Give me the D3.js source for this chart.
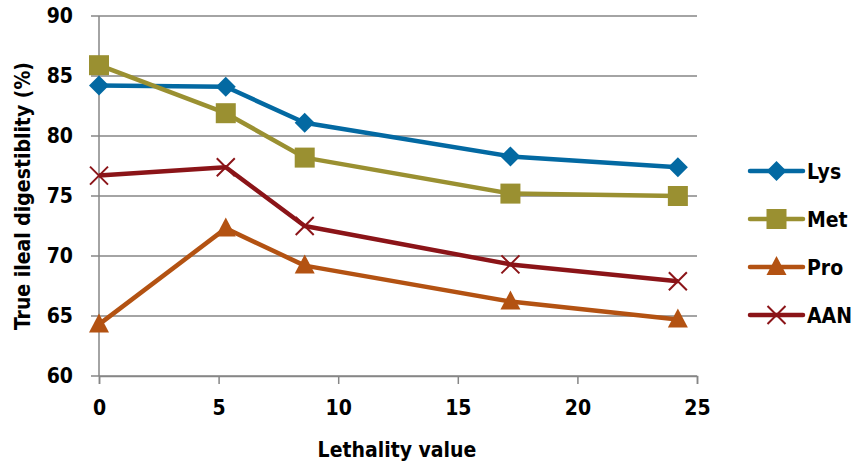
<!DOCTYPE html>
<html><head><meta charset="utf-8">
<script src="https://cdn.jsdelivr.net/npm/d3@7"></script>
<style>
body{margin:0;background:#fff;}
text{font-family:"Liberation Sans Narrow","DejaVu Sans Condensed","Open Sans",sans-serif;font-weight:bold;fill:#000;}
</style></head><body>
<svg id="c" width="858" height="467"></svg>
<script>
const lethality = [0, 5.3, 8.6, 17.2, 24.2];
const seriesNames = ["Lys", "Met", "Pro", "AAN"];
const lys = [84.2, 84.1, 81.1, 78.3, 77.4];
const met = [85.9, 81.9, 78.2, 75.2, 75.0];
const pro = [64.3, 72.3, 69.2, 66.2, 64.7];
const aan = [76.7, 77.4, 72.5, 69.3, 67.9];
const xTicks = [0, 5, 10, 15, 20, 25];
const yTicks = [60, 65, 70, 75, 80, 85, 90];
const colors = ["#0369A2", "#9A9031", "#B35212", "#8B1418"];
const symbolTypes = ["diamond", "square", "triangle", "cross"];

const svg = d3.select("#c");
const x = d3.scaleLinear().domain([0, 25]).range([99, 697]);
const y = d3.scaleLinear().domain([60, 90]).range([376, 16]);
const grid = "#868686";

// gridlines
svg.append("g").selectAll("line").data(yTicks).join("line")
  .attr("x1", 91).attr("x2", x(25)).attr("y1", d => y(d)).attr("y2", d => y(d))
  .attr("stroke", grid).attr("stroke-width", 1.5);

// y axis
const yAxis = svg.append("g").attr("transform", `translate(${x(0)},0)`)
  .call(d3.axisLeft(y).tickValues(yTicks).tickSize(0).tickPadding(26));
yAxis.select(".domain").remove();
yAxis.selectAll("text").attr("font-size", 21).attr("fill", "#000");
svg.append("line").attr("x1", x(0)).attr("x2", x(0)).attr("y1", y(90)).attr("y2", y(60))
  .attr("stroke", grid).attr("stroke-width", 1.5);

// x axis
const xAxis = svg.append("g").attr("transform", `translate(0,${y(60)})`)
  .call(d3.axisBottom(x).tickValues(xTicks).tickSize(8).tickPadding(16));
xAxis.select(".domain").attr("stroke", grid).attr("stroke-width", 1.5);
xAxis.selectAll("line").attr("stroke", grid).attr("stroke-width", 1.5);
xAxis.selectAll("text").attr("font-size", 21).attr("fill", "#000");

// titles
svg.append("text").attr("x", 397).attr("y", 457).attr("text-anchor", "middle")
  .attr("font-size", 21).text("Lethality value");
svg.append("text").attr("transform", `translate(30,${y(75)}) rotate(-90)`)
  .attr("text-anchor", "middle").attr("font-size", 21).text("True ileal digestiblity (%)");

const data = [lys, met, pro, aan];
const line = d3.line().x((d, i) => x(lethality[i])).y(d => y(d));

function drawMarker(g, type, color, cx, cy) {
  if (type === "diamond") {
    g.append("path").attr("d", `M${cx},${cy-10}L${cx+10},${cy}L${cx},${cy+10}L${cx-10},${cy}Z`).attr("fill", color);
  } else if (type === "square") {
    g.append("rect").attr("x", cx-10).attr("y", cy-10).attr("width", 20).attr("height", 20).attr("fill", color);
  } else if (type === "triangle") {
    g.append("path").attr("d", `M${cx},${cy-11}L${cx+10},${cy+8}L${cx-10},${cy+8}Z`).attr("fill", color);
  } else {
    g.append("path").attr("d", `M${cx-9},${cy-9}L${cx+9},${cy+9}M${cx+9},${cy-9}L${cx-9},${cy+9}`)
      .attr("stroke", color).attr("stroke-width", 2).attr("fill", "none");
  }
}

data.forEach((vals, s) => {
  const g = svg.append("g");
  g.append("path").datum(vals).attr("d", line).attr("fill", "none")
    .attr("stroke", colors[s]).attr("stroke-width", 4.5).attr("stroke-linejoin", "round");
  vals.forEach((v, i) => drawMarker(g, symbolTypes[s], colors[s], x(lethality[i]), y(v)));
});

// legend
const legendY = [171, 219, 267, 315];
seriesNames.forEach((name, s) => {
  const g = svg.append("g");
  const ly = legendY[s];
  g.append("line").attr("x1", 750).attr("x2", 803).attr("y1", ly).attr("y2", ly)
    .attr("stroke", colors[s]).attr("stroke-width", 4.5).attr("stroke-linecap", "round");
  drawMarker(g, symbolTypes[s], colors[s], 776.5, ly);
  g.append("text").attr("x", 807).attr("y", ly + 8).attr("font-size", 21).text(name);
});
</script>
</body></html>
